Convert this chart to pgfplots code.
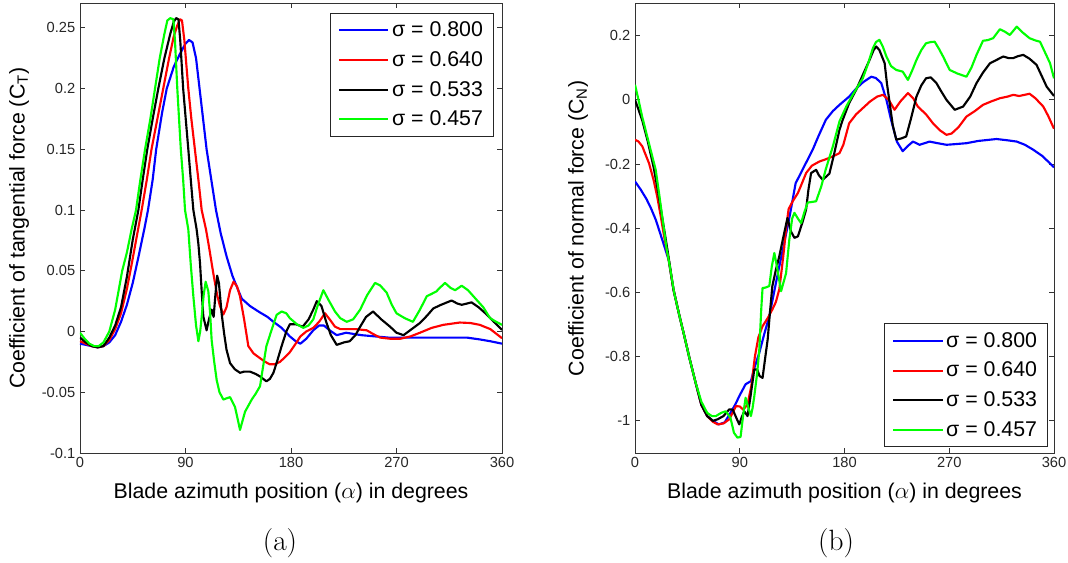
\documentclass[border=0pt]{standalone}
\usepackage{pgfplots}
\pgfplotsset{compat=1.18}
\usepackage{fontspec}
\newfontfamily\arial{Liberation Sans}
\definecolor{cblue}{RGB}{0,0,255}
\definecolor{cred}{RGB}{255,0,0}
\definecolor{cgreen}{RGB}{0,255,0}
\pgfplotsset{
  myaxis/.style={
    scale only axis,
    anchor=south west,
    xmin=0, xmax=360,
    xtick={0,90,180,270,360},
    xticklabels={0,90,180,270,360},
    tick align=inside,
    tick pos=both,
    major tick length=3.5pt,
    axis line style={black!80, line width=0.7pt},
    every tick/.style={black!80, line width=0.7pt},
    ticklabel style={font=\arial\fontsize{11}{13}\selectfont, black!85},
    label style={font=\arial\fontsize{16}{19}\selectfont},
    xlabel={Blade azimuth position ($\alpha$) in degrees},
    xlabel style={at={(axis description cs:0.5,-0.089)}, anchor=center},
    legend cell align=left,
    legend image code/.code={\draw[#1, line width=1.5pt] (0pt,0pt) -- (37pt,0pt);},
    legend style={draw=black!85, line width=0.6pt, fill=white,
      font=\arial\fontsize{16}{19}\selectfont,
      inner xsep=6pt, inner ysep=4.5pt, row sep=5.5pt,
      nodes={inner xsep=2pt}},
    every axis plot/.append style={line width=1.6pt, line join=round},
  }
}
\begin{document}
\begin{tikzpicture}
\path[use as bounding box] (0,0) rectangle (801pt,422.25pt);
% ---------------- (a) ----------------
\begin{axis}[myaxis,
  at={(60pt,82.5pt)}, width=316.5pt, height=337.1pt,
  ymin=-0.1, ymax=0.27,
  ytick={-0.1,-0.05,0,0.05,0.1,0.15,0.2,0.25},
  yticklabels={-0.1,-0.05,0,0.05,0.1,0.15,0.2,0.25},
  ylabel={Coefficient of tangential force (C\textsubscript{T})},
  ylabel style={at={(axis description cs:-0.1445,0.5)}, anchor=center},
  legend style={at={(0.981,0.979)}, anchor=north east},
]
\addplot[cblue] coordinates {
(0,-0.010) (5,-0.011) (10,-0.012) (15,-0.013) (20,-0.012) (25,-0.009) (30,-0.003)
(35,0.008) (40,0.022) (45,0.040) (50,0.062) (55,0.085) (58,0.100) (62,0.125)
(65,0.150) (70,0.180) (74,0.200) (80,0.218) (85,0.228) (90,0.237) (93,0.240)
(96,0.238) (99,0.225) (102,0.200) (105,0.175) (108,0.150) (112,0.125) (116,0.100)
(120,0.081) (125,0.062) (130,0.046) (135,0.034) (138,0.027) (145,0.021) (153,0.016)
(160,0.012) (165,0.008) (172,0.003) (179,-0.004) (184,-0.008) (188,-0.010)
(193,-0.006) (199,0.001) (204,0.005) (208,0.005) (213,0.001) (219,-0.003)
(227,-0.001) (240,-0.003) (263,-0.005) (290,-0.005) (313,-0.005) (330,-0.005)
(341,-0.0065) (350,-0.008) (360,-0.010)
};
\addplot[cred] coordinates {
(0,-0.008) (5,-0.010) (10,-0.012) (15,-0.013) (20,-0.012) (25,-0.007) (30,0.002)
(35,0.015) (40,0.035) (44,0.055) (48,0.076) (52.6,0.100) (57,0.125) (61,0.150)
(66,0.175) (71,0.200) (76,0.225) (80,0.243) (83,0.252) (85.5,0.257) (87,0.256)
(89,0.240) (92.4,0.200) (95,0.175) (98,0.150) (101,0.125) (103.8,0.100)
(107.5,0.084) (110,0.070) (113.7,0.048) (117,0.030) (119.4,0.021) (122.3,0.014)
(125,0.020) (128,0.034) (131,0.041) (134,0.037) (136.5,0.029) (140,0.010)
(143.6,-0.012) (148,-0.018) (153.6,-0.022) (158,-0.025) (162,-0.027) (166,-0.027)
(170.6,-0.025) (175,-0.021) (179,-0.017) (184,-0.010) (188,-0.004) (193,0.000)
(199,0.003) (204,0.008) (209,0.015) (213,0.010) (217.5,0.004) (222,0.002)
(227.5,0.002) (235,0.002) (244.6,0.001) (250,-0.002) (256,-0.005) (265,-0.006)
(273,-0.006) (282,-0.004) (290,-0.001) (300,0.003) (310,0.0055) (324,0.0074)
(333,0.007) (341,0.0055) (350,0.002) (360,-0.0055)
};
\addplot[black] coordinates {
(0,-0.005) (5,-0.009) (10,-0.012) (15,-0.013) (20,-0.012) (25,-0.005) (30,0.005)
(35,0.020) (40,0.045) (45,0.0756) (49.8,0.100) (53.5,0.125) (57.4,0.150) (62,0.175)
(66.8,0.200) (72,0.225) (77,0.245) (80,0.255) (82,0.258) (84,0.257) (85.5,0.240)
(88,0.200) (90.2,0.175) (92.4,0.150) (94.5,0.125) (96.7,0.100) (99.5,0.084)
(101,0.072) (102.4,0.056) (104,0.030) (105.2,0.0124) (108,0.001) (110,0.010)
(112.3,0.018) (114,0.012) (115.5,0.030) (117,0.046) (118.5,0.040) (120.8,0.015)
(123,-0.002) (125,-0.015) (128,-0.026) (132,-0.031) (136.5,-0.034) (140,-0.033)
(145,-0.033) (150,-0.035) (153.6,-0.037) (159,-0.041) (162,-0.039) (165,-0.034)
(168,-0.025) (172,-0.012) (176,0.000) (179,0.006) (184,0.006) (190,0.004)
(195,0.010) (199,0.018) (202,0.025) (206,0.021) (210,0.008) (214,-0.003)
(219,-0.011) (225,-0.009) (230,-0.008) (235,-0.003) (239,0.004) (244,0.012)
(250,0.0165) (257,0.010) (264.5,0.004) (270,-0.001) (276,-0.003) (283,0.002)
(290,0.007) (296,0.013) (301.4,0.019) (308,0.022) (317,0.0255) (322,0.023)
(325.6,0.022) (330,0.023) (334,0.024) (340,0.020) (347,0.014) (353,0.008)
(360,0.0014)
};
\addplot[cgreen] coordinates {
(0,-0.001) (4,-0.006) (8,-0.010) (12,-0.012) (16,-0.012) (20,-0.009) (25,0.000)
(30,0.018) (36,0.050) (40,0.065) (44,0.084) (47.8,0.100) (51.5,0.125) (55.5,0.150)
(60,0.175) (64,0.200) (68,0.225) (72,0.245) (74.5,0.256) (77,0.258) (79.6,0.257)
(81,0.240) (83,0.200) (84.5,0.175) (86,0.150) (88,0.125) (89.6,0.100) (92.4,0.084)
(94.5,0.055) (96.7,0.029) (99,0.005) (101,-0.008) (102.5,0.000) (103.8,0.012)
(105.5,0.030) (107.2,0.041) (109.5,0.033) (111,0.015) (112.3,-0.007) (114.5,-0.025)
(116.6,-0.040) (119,-0.050) (122.3,-0.056) (125,-0.055) (128,-0.054) (132.2,-0.062)
(134.5,-0.072) (136.5,-0.081) (138.5,-0.074) (140.8,-0.066) (146.5,-0.056)
(150,-0.051) (153.6,-0.045) (156,-0.030) (159,-0.012) (163,0.000) (167.8,0.0138)
(172,0.0165) (176,0.015) (179,0.011) (185,0.006) (190.5,0.003) (195,0.005)
(199,0.010) (203,0.022) (207.6,0.034) (212,0.026) (217.5,0.0165) (222,0.011)
(227.5,0.008) (233,0.010) (239,0.018) (245,0.030) (251.7,0.040) (256,0.038)
(261.6,0.032) (266,0.022) (270,0.015) (277,0.011) (284,0.008) (290,0.018)
(295.8,0.029) (300,0.031) (304,0.033) (307,0.036) (311.4,0.040) (316,0.036)
(320,0.034) (325.6,0.0377) (331,0.034) (338.4,0.026) (344,0.020) (349.8,0.011)
(355,0.008) (360,0.0055)
};
\legend{σ = 0.800, σ = 0.640, σ = 0.533, σ = 0.457}
\end{axis}
% ---------------- (b) ----------------
\begin{axis}[myaxis,
  at={(476.25pt,82.5pt)}, width=314.25pt, height=337.1pt,
  ymin=-1.1, ymax=0.3,
  ytick={-1,-0.8,-0.6,-0.4,-0.2,0,0.2},
  yticklabels={-1,-0.8,-0.6,-0.4,-0.2,0,0.2},
  ylabel={Coefficient of normal force (C\textsubscript{N})},
  ylabel style={at={(axis description cs:-0.136,0.5)}, anchor=center},
  legend style={at={(0.986,0.013)}, anchor=south east},
]
\addplot[cblue] coordinates {
(0,-0.254) (5,-0.28) (10,-0.31) (14,-0.34) (18,-0.375) (22,-0.42) (26,-0.465)
(29,-0.50) (33,-0.59) (38,-0.67) (42,-0.73) (46.5,-0.80) (52,-0.88) (57,-0.95)
(62,-0.985) (67,-1.000) (72,-1.011) (77,-1.005) (82,-0.975) (86,-0.95) (90,-0.92)
(95,-0.886) (99.6,-0.876) (103,-0.83) (106.8,-0.788) (111,-0.73) (115.4,-0.674)
(120,-0.59) (124,-0.518) (128,-0.45) (133,-0.36) (138,-0.26) (145,-0.21)
(152.7,-0.155) (158,-0.11) (164,-0.062) (170,-0.035) (175.7,-0.0156) (184,0.010)
(190,0.035) (196,0.055) (203,0.072) (207,0.068) (211.6,0.052) (216,0.000)
(220,-0.062) (225,-0.13) (230,-0.160) (234,-0.145) (238.8,-0.130) (244.6,-0.140)
(253,-0.130) (260,-0.135) (267.6,-0.140) (275,-0.138) (284.8,-0.135) (295,-0.128)
(310.6,-0.122) (320,-0.126) (328,-0.130) (335,-0.140) (342,-0.155) (350,-0.175)
(360,-0.210)
};
\addplot[cred] coordinates {
(0,-0.124) (3,-0.13) (6.3,-0.145) (9,-0.17) (12,-0.197) (16,-0.25) (19,-0.30)
(22,-0.36) (25,-0.425) (29,-0.50) (33,-0.59) (38,-0.67) (42,-0.73) (46.5,-0.80)
(52,-0.88) (57,-0.95) (62,-0.985) (67,-1.003) (71,-1.011) (76,-1.008) (81,-0.995)
(86.7,-0.954) (90,-0.955) (93,-0.965) (96.7,-0.949) (100,-0.89) (103,-0.80)
(106,-0.74) (109.6,-0.705) (114,-0.68) (118,-0.653) (121,-0.63) (124,-0.59)
(126,-0.53) (128,-0.467) (129.8,-0.40) (132,-0.34) (135.5,-0.316) (140,-0.29)
(144,-0.255) (147,-0.228) (152,-0.205) (158.5,-0.192) (164,-0.185) (170,-0.176)
(175.7,-0.166) (179,-0.14) (184,-0.073) (190,-0.045) (195.7,-0.026) (202,-0.005)
(208,0.010) (213,0.0156) (218,0.000) (223,-0.031) (228,-0.005) (234.5,0.021)
(239,0.005) (243,-0.021) (250,-0.045) (256,-0.073) (262,-0.095) (267.6,-0.109)
(272,-0.105) (278,-0.085) (284.8,-0.052) (292,-0.035) (299,-0.0156) (306,-0.005)
(313.5,0.005) (320,0.010) (325,0.0156) (330,0.012) (334,0.015) (339,0.019)
(344,0.005) (350.8,-0.021) (355,-0.05) (360,-0.09)
};
\addplot[black] coordinates {
(0,0.0) (3,-0.03) (6.3,-0.065) (11,-0.13) (16,-0.21) (20,-0.29) (24,-0.38)
(28,-0.47) (33,-0.59) (38,-0.67) (42,-0.73) (46.5,-0.80) (52,-0.88) (57,-0.95)
(62,-0.985) (67,-1.0) (71,-0.995) (76,-0.985) (81,-0.964) (84,-0.965) (87,-0.99)
(89.6,-1.011) (91.5,-0.99) (93.9,-0.97) (96.7,-0.985) (99,-0.93) (102.5,-0.84)
(105,-0.84) (107,-0.86) (109.6,-0.866) (112,-0.80) (114,-0.746) (116,-0.66)
(118,-0.58) (121,-0.53) (124,-0.487) (127,-0.435) (131,-0.368) (134,-0.41)
(137,-0.430) (140,-0.425) (144,-0.38) (147,-0.342) (149,-0.28) (151.3,-0.228)
(155.6,-0.218) (158,-0.235) (161.3,-0.249) (164,-0.24) (167,-0.230) (171,-0.17)
(175.7,-0.093) (178.5,-0.062) (184,-0.01) (190,0.031) (196,0.08) (201.5,0.124)
(205,0.155) (207.3,0.166) (210,0.155) (214.5,0.114) (216.5,0.05) (218.8,-0.010)
(221.5,-0.08) (224.5,-0.124) (229,-0.12) (233,-0.114) (237,-0.06) (241.8,0.010)
(246,0.045) (250,0.067) (254,0.07) (259,0.052) (263,0.027) (267.6,0.0)
(274.7,-0.031) (281.9,-0.021) (288,0.01) (293.4,0.052) (299,0.085) (305,0.114)
(311,0.125) (316.4,0.135) (321,0.13) (325,0.130) (329,0.136) (333.6,0.140)
(339,0.128) (345,0.109) (350,0.07) (353.7,0.041) (360,0.012)
};
\addplot[cgreen] coordinates {
(0,0.047) (3,0.0) (6,-0.05) (9,-0.093) (13,-0.15) (17.8,-0.218) (21,-0.30)
(24,-0.38) (27,-0.46) (30,-0.52) (33.6,-0.60) (38,-0.67) (42,-0.73) (46.5,-0.80)
(52,-0.88) (57,-0.94) (62,-0.975) (66,-0.985) (69.5,-0.985) (74,-0.975) (78,-0.970)
(82,-0.99) (85,-1.037) (88,-1.052) (90.7,-1.05) (93,-0.98) (95,-0.928) (97.5,-0.96)
(99.6,-0.985) (101,-0.96) (102.5,-0.923) (105,-0.85) (106.8,-0.778) (108.5,-0.65)
(109.6,-0.586) (112,-0.585) (115.4,-0.58) (117.5,-0.52) (119.7,-0.477) (122,-0.52)
(125.5,-0.596) (127.5,-0.57) (129.8,-0.54) (132.6,-0.435) (135,-0.37) (137,-0.352)
(140,-0.37) (142.7,-0.384) (145.5,-0.35) (148.4,-0.32) (152,-0.318) (155.6,-0.316)
(160,-0.27) (164,-0.215) (170,-0.145) (175.7,-0.067) (181.5,-0.021) (187,0.015)
(195.7,0.067) (200,0.11) (204.4,0.161) (207,0.18) (210,0.187) (213,0.165)
(216,0.135) (220,0.105) (224.5,0.093) (230,0.088) (234.5,0.062) (238,0.09)
(241.8,0.124) (246,0.155) (250,0.176) (254,0.18) (257.5,0.181) (261,0.16)
(264.7,0.135) (270.4,0.093) (277,0.082) (284.8,0.072) (289,0.10) (293.4,0.140)
(299,0.184) (303,0.186) (307.7,0.192) (313.5,0.220) (318,0.212) (322,0.202)
(328,0.228) (333,0.21) (339,0.192) (344,0.185) (348,0.181) (352,0.150)
(356.6,0.114) (360,0.067)
};
\legend{σ = 0.800, σ = 0.640, σ = 0.533, σ = 0.457}
\end{axis}
\node[font=\rmfamily\fontsize{22}{26}\selectfont] at (210pt,15pt) {(a)};
\node[font=\rmfamily\fontsize{22}{26}\selectfont] at (627pt,15pt) {(b)};
\end{tikzpicture}
\end{document}
